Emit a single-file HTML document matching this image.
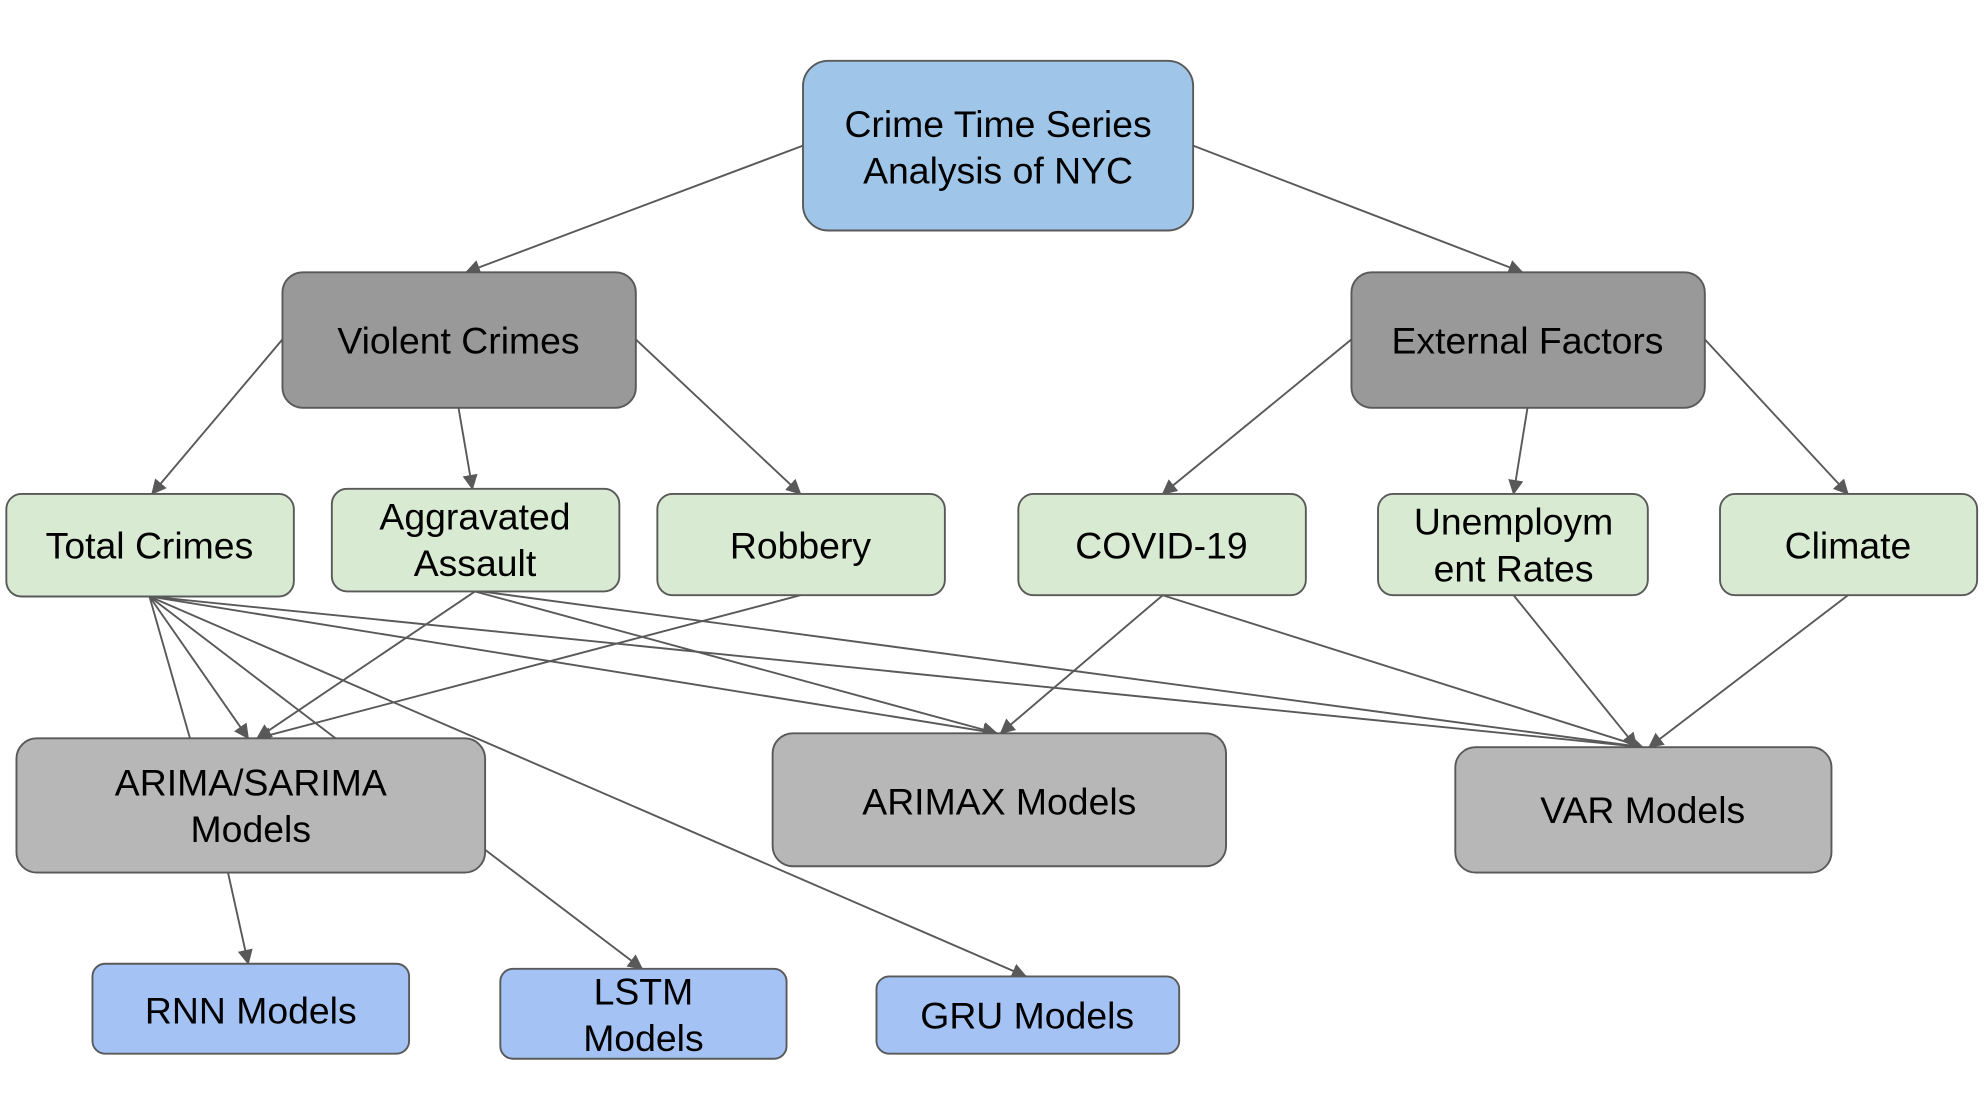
<!DOCTYPE html>
<html><head><style>html,body{margin:0;padding:0;background:#fff}svg{display:block}</style></head>
<body>
<svg width="1986" height="1098" viewBox="0 0 1568 867" preserveAspectRatio="none" xmlns="http://www.w3.org/2000/svg" font-family="Liberation Sans, Arial, sans-serif" font-size="29.5" text-anchor="middle">
<defs><marker id="a" markerWidth="13" markerHeight="13" refX="11" refY="6" orient="auto" markerUnits="userSpaceOnUse"><path d="M0,0 L12,6 L0,12 z" fill="#595959"/></marker></defs>
<g stroke="#595959" stroke-width="1.5" fill="none">
<line x1="634" y1="115" x2="368" y2="215" marker-end="url(#a)"/>
<line x1="942" y1="115" x2="1202" y2="215" marker-end="url(#a)"/>
<line x1="223" y1="268" x2="120" y2="390" marker-end="url(#a)"/>
<line x1="362" y1="322" x2="373" y2="386" marker-end="url(#a)"/>
<line x1="502" y1="268" x2="632" y2="390" marker-end="url(#a)"/>
<line x1="1067" y1="268" x2="918" y2="390" marker-end="url(#a)"/>
<line x1="1206" y1="322" x2="1195" y2="390" marker-end="url(#a)"/>
<line x1="1346" y1="268" x2="1459" y2="390" marker-end="url(#a)"/>
<line x1="118" y1="471" x2="150" y2="583"/>
<line x1="118" y1="471" x2="196" y2="583" marker-end="url(#a)"/>
<line x1="118" y1="471" x2="265" y2="583"/>
<line x1="118" y1="471" x2="810" y2="771" marker-end="url(#a)"/>
<line x1="118" y1="471" x2="787" y2="579" marker-end="url(#a)"/>
<line x1="118" y1="471" x2="1297" y2="590" marker-end="url(#a)"/>
<line x1="375" y1="467" x2="203" y2="583" marker-end="url(#a)"/>
<line x1="375" y1="467" x2="787" y2="579" marker-end="url(#a)"/>
<line x1="380" y1="467" x2="1297" y2="590" marker-end="url(#a)"/>
<line x1="632" y1="470" x2="203" y2="583" marker-end="url(#a)"/>
<line x1="918" y1="470" x2="790" y2="579" marker-end="url(#a)"/>
<line x1="918" y1="470" x2="1297" y2="590" marker-end="url(#a)"/>
<line x1="1195" y1="470" x2="1292" y2="590" marker-end="url(#a)"/>
<line x1="1459" y1="470" x2="1302" y2="590" marker-end="url(#a)"/>
<line x1="180" y1="689" x2="196" y2="761" marker-end="url(#a)"/>
<line x1="383" y1="671" x2="507" y2="765" marker-end="url(#a)"/>
</g>
<g stroke="#595959" stroke-width="1.5">
<rect x="634" y="48" width="308" height="134" rx="20" fill="#9fc5e8"/>
<rect x="223" y="215" width="279" height="107" rx="16" fill="#999999"/>
<rect x="1067" y="215" width="279" height="107" rx="16" fill="#999999"/>
<rect x="5" y="390" width="227" height="81" rx="12" fill="#d9ead3"/>
<rect x="262" y="386" width="227" height="81" rx="12" fill="#d9ead3"/>
<rect x="519" y="390" width="227" height="80" rx="12" fill="#d9ead3"/>
<rect x="804" y="390" width="227" height="80" rx="12" fill="#d9ead3"/>
<rect x="1088" y="390" width="213" height="80" rx="12" fill="#d9ead3"/>
<rect x="1358" y="390" width="203" height="80" rx="12" fill="#d9ead3"/>
<rect x="13" y="583" width="370" height="106" rx="16" fill="#b7b7b7"/>
<rect x="610" y="579" width="358" height="105" rx="16" fill="#b7b7b7"/>
<rect x="1149" y="590" width="297" height="99" rx="16" fill="#b7b7b7"/>
<rect x="73" y="761" width="250" height="71" rx="10" fill="#a4c2f4"/>
<rect x="395" y="765" width="226" height="71" rx="10" fill="#a4c2f4"/>
<rect x="692" y="771" width="239" height="61" rx="10" fill="#a4c2f4"/>
</g>
<g fill="#000">
<text x="788" y="108">Crime Time Series</text><text x="788" y="145">Analysis of NYC</text>
<text x="362" y="279">Violent Crimes</text>
<text x="1206" y="279">External Factors</text>
<text x="118" y="441">Total Crimes</text>
<text x="375" y="418">Aggravated</text><text x="375" y="455">Assault</text>
<text x="632" y="441">Robbery</text>
<text x="917" y="441">COVID-19</text>
<text x="1195" y="422">Unemploym</text><text x="1195" y="459">ent Rates</text>
<text x="1459" y="441">Climate</text>
<text x="198" y="628">ARIMA/SARIMA</text><text x="198" y="665">Models</text>
<text x="789" y="643">ARIMAX Models</text>
<text x="1297" y="650">VAR Models</text>
<text x="198" y="808">RNN Models</text>
<text x="508" y="793">LSTM</text><text x="508" y="830">Models</text>
<text x="811" y="812">GRU Models</text>
</g>
</svg>
</body></html>
